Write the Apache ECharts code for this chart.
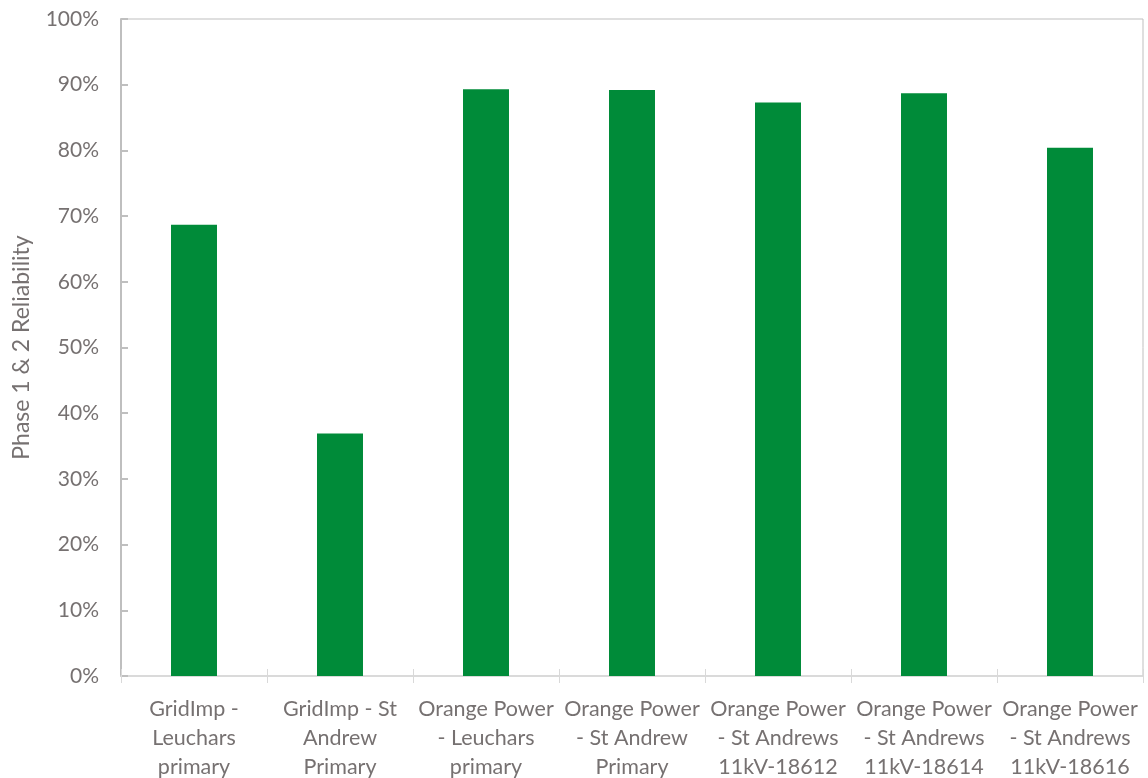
<!DOCTYPE html>
<html>
<head>
<meta charset="utf-8">
<script src="https://cdn.jsdelivr.net/npm/echarts@6/dist/echarts.min.js"></script>
<style>
  html, body { margin: 0; padding: 0; background: #fff; }
  #chart { width: 1148px; height: 778px; }
</style>
</head>
<body>
<div id="chart"></div>
<script>
// chart data
var categories = [
    'GridImp -\nLeuchars\nprimary',
    'GridImp - St\nAndrew\nPrimary',
    'Orange Power\n- Leuchars\nprimary',
    'Orange Power\n- St Andrew\nPrimary',
    'Orange Power\n- St Andrews\n11kV-18612',
    'Orange Power\n- St Andrews\n11kV-18614',
    'Orange Power\n- St Andrews\n11kV-18616'
];
var reliability = [68.7, 36.9, 89.3, 89.2, 87.3, 88.7, 80.4];
var yMin = 0, yMax = 100, yStep = 10;

var textColor = '#767171';
var lineColor = '#bfbfbf';
var font = 'Lato, "Open Sans", sans-serif';

var chart = echarts.init(document.getElementById('chart'));
chart.setOption({
    animation: false,
    grid: {
        left: 121, right: 5, top: 19, bottom: 102,
        outerBoundsMode: 'none',
        show: true,
        borderColor: lineColor,
        borderWidth: 1
    },
    xAxis: [{
        type: 'category',
        data: categories,
        axisLine: {lineStyle: {color: '#d9d9d9', width: 1.5}},
        axisTick: {show: true, length: 7, lineStyle: {color: '#d9d9d9'}},
        axisLabel: {
            color: textColor, fontFamily: font, fontSize: 21.5,
            lineHeight: 29, margin: 19, interval: 0
        }
    }, {
        // second copy only for the inward half of the boundary ticks
        type: 'category',
        data: categories,
        position: 'bottom',
        axisLine: {show: false},
        axisTick: {show: true, inside: true, length: 7, lineStyle: {color: '#d9d9d9'}},
        axisLabel: {show: false}
    }],
    yAxis: {
        type: 'value',
        min: yMin, max: yMax, interval: yStep,
        name: 'Phase 1 & 2 Reliability',
        nameLocation: 'middle',
        nameGap: 88,
        nameTextStyle: {color: textColor, fontFamily: font, fontSize: 23},
        axisLine: {show: true, lineStyle: {color: lineColor, width: 2}},
        axisTick: {show: true, inside: true, length: 7, lineStyle: {color: lineColor, width: 2}},
        splitLine: {show: false},
        axisLabel: {
            color: textColor, fontFamily: font, fontSize: 21, margin: 22,
            formatter: function (v) { return v + '%'; }
        }
    },
    series: [{
        type: 'bar',
        data: reliability,
        barWidth: '31.5%',
        itemStyle: {color: '#008b39'}
    }]
});
</script>
</body>
</html>
